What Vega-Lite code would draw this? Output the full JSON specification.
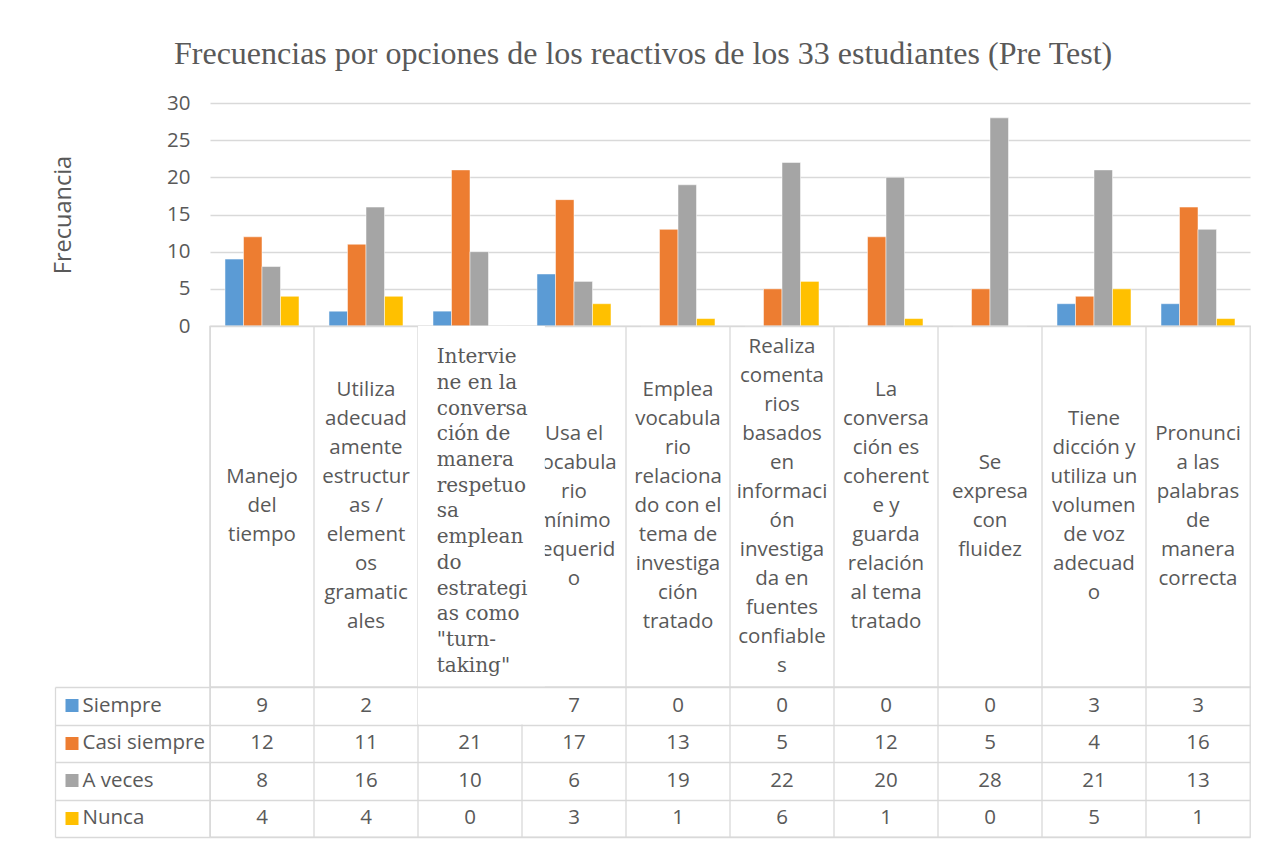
{
  "$schema": "https://vega.github.io/schema/vega-lite/v6.json",
  "background": "white",
  "padding": {"left": 51, "top": 38, "right": 17, "bottom": 7},
  "title": {
    "text": "Frecuencias por opciones de los reactivos de los 33 estudiantes (Pre Test)",
    "font": "Liberation Serif",
    "fontSize": 32,
    "fontWeight": "normal",
    "color": "#595959",
    "anchor": "middle",
    "offset": 22,
    "dx": -8
  },
  "datasets": {
    "freq": [
      {"item": "Manejo del tiempo", "opcion": "Siempre", "n": 9},
      {"item": "Manejo del tiempo", "opcion": "Casi siempre", "n": 12},
      {"item": "Manejo del tiempo", "opcion": "A veces", "n": 8},
      {"item": "Manejo del tiempo", "opcion": "Nunca", "n": 4},
      {"item": "Utiliza adecuadamente estructuras / elementos gramaticales", "opcion": "Siempre", "n": 2},
      {"item": "Utiliza adecuadamente estructuras / elementos gramaticales", "opcion": "Casi siempre", "n": 11},
      {"item": "Utiliza adecuadamente estructuras / elementos gramaticales", "opcion": "A veces", "n": 16},
      {"item": "Utiliza adecuadamente estructuras / elementos gramaticales", "opcion": "Nunca", "n": 4},
      {"item": "Interviene en la conversación de manera respetuosa empleando estrategias como turn-taking", "opcion": "Siempre", "n": 2},
      {"item": "Interviene en la conversación de manera respetuosa empleando estrategias como turn-taking", "opcion": "Casi siempre", "n": 21},
      {"item": "Interviene en la conversación de manera respetuosa empleando estrategias como turn-taking", "opcion": "A veces", "n": 10},
      {"item": "Interviene en la conversación de manera respetuosa empleando estrategias como turn-taking", "opcion": "Nunca", "n": 0},
      {"item": "Usa el vocabulario mínimo requerido", "opcion": "Siempre", "n": 7},
      {"item": "Usa el vocabulario mínimo requerido", "opcion": "Casi siempre", "n": 17},
      {"item": "Usa el vocabulario mínimo requerido", "opcion": "A veces", "n": 6},
      {"item": "Usa el vocabulario mínimo requerido", "opcion": "Nunca", "n": 3},
      {"item": "Emplea vocabulario relacionado con el tema de investigación tratado", "opcion": "Siempre", "n": 0},
      {"item": "Emplea vocabulario relacionado con el tema de investigación tratado", "opcion": "Casi siempre", "n": 13},
      {"item": "Emplea vocabulario relacionado con el tema de investigación tratado", "opcion": "A veces", "n": 19},
      {"item": "Emplea vocabulario relacionado con el tema de investigación tratado", "opcion": "Nunca", "n": 1},
      {"item": "Realiza comentarios basados en información investigada en fuentes confiables", "opcion": "Siempre", "n": 0},
      {"item": "Realiza comentarios basados en información investigada en fuentes confiables", "opcion": "Casi siempre", "n": 5},
      {"item": "Realiza comentarios basados en información investigada en fuentes confiables", "opcion": "A veces", "n": 22},
      {"item": "Realiza comentarios basados en información investigada en fuentes confiables", "opcion": "Nunca", "n": 6},
      {"item": "La conversación es coherente y guarda relación al tema tratado", "opcion": "Siempre", "n": 0},
      {"item": "La conversación es coherente y guarda relación al tema tratado", "opcion": "Casi siempre", "n": 12},
      {"item": "La conversación es coherente y guarda relación al tema tratado", "opcion": "A veces", "n": 20},
      {"item": "La conversación es coherente y guarda relación al tema tratado", "opcion": "Nunca", "n": 1},
      {"item": "Se expresa con fluidez", "opcion": "Siempre", "n": 0},
      {"item": "Se expresa con fluidez", "opcion": "Casi siempre", "n": 5},
      {"item": "Se expresa con fluidez", "opcion": "A veces", "n": 28},
      {"item": "Se expresa con fluidez", "opcion": "Nunca", "n": 0},
      {"item": "Tiene dicción y utiliza un volumen de voz adecuado", "opcion": "Siempre", "n": 3},
      {"item": "Tiene dicción y utiliza un volumen de voz adecuado", "opcion": "Casi siempre", "n": 4},
      {"item": "Tiene dicción y utiliza un volumen de voz adecuado", "opcion": "A veces", "n": 21},
      {"item": "Tiene dicción y utiliza un volumen de voz adecuado", "opcion": "Nunca", "n": 5},
      {"item": "Pronuncia las palabras de manera correcta", "opcion": "Siempre", "n": 3},
      {"item": "Pronuncia las palabras de manera correcta", "opcion": "Casi siempre", "n": 16},
      {"item": "Pronuncia las palabras de manera correcta", "opcion": "A veces", "n": 13},
      {"item": "Pronuncia las palabras de manera correcta", "opcion": "Nunca", "n": 1}
    ],
    "labels": [
      {"item": "Manejo del tiempo", "label": "Manejo\ndel\ntiempo"},
      {"item": "Utiliza adecuadamente estructuras / elementos gramaticales", "label": "Utiliza\nadecuad\namente\nestructur\nas /\nelement\nos\ngramatic\nales"},
      {"item": "Interviene en la conversación de manera respetuosa empleando estrategias como turn-taking", "label": "Intervie\nne en la\nconversa\nción de\nmanera\nrespetuo\nsa\nemplean\ndo\nestrategi\nas como\n\"turn-\ntaking\""},
      {"item": "Usa el vocabulario mínimo requerido", "label": "Usa el\nvocabula\nrio\nmínimo\nrequerid\no"},
      {"item": "Emplea vocabulario relacionado con el tema de investigación tratado", "label": "Emplea\nvocabula\nrio\nrelaciona\ndo con el\ntema de\ninvestiga\nción\ntratado"},
      {"item": "Realiza comentarios basados en información investigada en fuentes confiables", "label": "Realiza\ncomenta\nrios\nbasados\nen\ninformaci\nón\ninvestiga\nda en\nfuentes\nconfiable\ns"},
      {"item": "La conversación es coherente y guarda relación al tema tratado", "label": "La\nconversa\nción es\ncoherent\ne y\nguarda\nrelación\nal tema\ntratado"},
      {"item": "Se expresa con fluidez", "label": "Se\nexpresa\ncon\nfluidez"},
      {"item": "Tiene dicción y utiliza un volumen de voz adecuado", "label": "Tiene\ndicción y\nutiliza un\nvolumen\nde voz\nadecuad\no"},
      {"item": "Pronuncia las palabras de manera correcta", "label": "Pronunci\na las\npalabras\nde\nmanera\ncorrecta"}
    ],
    "mask": [
      {"desde": "Interviene en la conversación de manera respetuosa empleando estrategias como turn-taking", "hasta": "Usa el vocabulario mínimo requerido", "opcion": "Siempre"}
    ]
  },
  "spacing": 0,
  "bounds": "flush",
  "vconcat": [
    {
      "width": 1040,
      "height": 223,
      "view": {"stroke": null},
      "data": {"name": "freq"},
      "mark": {"type": "bar", "stroke": "white", "strokeWidth": 0.5},
      "encoding": {
        "x": {"field": "item", "type": "nominal", "axis": null,
          "scale": {"paddingInner": 0, "paddingOuter": 0, "domain": ["Manejo del tiempo", "Utiliza adecuadamente estructuras / elementos gramaticales", "Interviene en la conversación de manera respetuosa empleando estrategias como turn-taking", "Usa el vocabulario mínimo requerido", "Emplea vocabulario relacionado con el tema de investigación tratado", "Realiza comentarios basados en información investigada en fuentes confiables", "La conversación es coherente y guarda relación al tema tratado", "Se expresa con fluidez", "Tiene dicción y utiliza un volumen de voz adecuado", "Pronuncia las palabras de manera correcta"]}},
        "xOffset": {"field": "opcion", "type": "nominal",
          "scale": {"domain": ["Siempre", "Casi siempre", "A veces", "Nunca"], "paddingInner": 0, "paddingOuter": 0.81}},
        "y": {"field": "n", "type": "quantitative",
          "scale": {"domain": [0, 30], "nice": false},
          "axis": {"values": [0, 5, 10, 15, 20, 25, 30], "title": "Frecuancia", "grid": true, "gridColor": "#d9d9d9", "gridWidth": 1.3, "domain": false, "ticks": false, "labelFontSize": 20.5, "labelPadding": 20, "titleFontSize": 23.5, "titlePadding": 91}},
        "color": {"field": "opcion", "type": "nominal",
          "scale": {"domain": ["Siempre", "Casi siempre", "A veces", "Nunca"], "range": ["#5B9BD5", "#ED7D31", "#A5A5A5", "#FFC000"]},
          "legend": null}
      }
    },
    {
      "width": 1040,
      "height": 361,
      "layer": [
        {
          "data": {"name": "labels"},
          "mark": {"type": "rule", "color": "#d9d9d9", "strokeWidth": 1.3},
          "encoding": {
            "x": {"field": "item", "type": "nominal", "bandPosition": 0, "axis": null,
              "scale": {"paddingInner": 0, "paddingOuter": 0, "domain": ["Manejo del tiempo", "Utiliza adecuadamente estructuras / elementos gramaticales", "Interviene en la conversación de manera respetuosa empleando estrategias como turn-taking", "Usa el vocabulario mínimo requerido", "Emplea vocabulario relacionado con el tema de investigación tratado", "Realiza comentarios basados en información investigada en fuentes confiables", "La conversación es coherente y guarda relación al tema tratado", "Se expresa con fluidez", "Tiene dicción y utiliza un volumen de voz adecuado", "Pronuncia las palabras de manera correcta"]}}
          }
        },
        {
          "data": {"name": "labels"},
          "transform": [
            {"filter": "indexof(datum.item, 'Interviene') !== 0"},
            {"calculate": "(length(split(datum.label, '\\n')) - 1) / 2", "as": "mitad"}
          ],
          "mark": {"type": "text", "lineBreak": "\n", "lineHeight": 29, "fontSize": 20.5, "align": "center", "baseline": "middle", "font": "Open Sans", "color": "#595959"},
          "encoding": {
            "x": {"field": "item", "type": "nominal", "axis": null},
            "y": {"field": "mitad", "type": "quantitative", "axis": null,
              "scale": {"domain": [-6.224, 6.224], "nice": false, "zero": false}},
            "text": {"field": "label"}
          }
        },
        {
          "data": {"name": "mask"},
          "mark": {"type": "rect", "color": "white"},
          "encoding": {
            "x": {"field": "desde", "type": "nominal", "bandPosition": 0},
            "x2": {"field": "hasta", "bandPosition": 0.22}
          }
        },
        {
          "data": {"name": "labels"},
          "transform": [
            {"filter": "indexof(datum.item, 'Interviene') === 0"},
            {"calculate": "(length(split(datum.label, '\\n')) - 1) / 2 * 25.7 / 29", "as": "mitad"}
          ],
          "mark": {"type": "text", "lineBreak": "\n", "lineHeight": 25.7, "fontSize": 20, "align": "left", "baseline": "middle", "font": "DejaVu Serif", "color": "#595959", "dy": 5},
          "encoding": {
            "x": {"field": "item", "type": "nominal", "bandPosition": 0.18},
            "y": {"field": "mitad", "type": "quantitative", "axis": null},
            "text": {"field": "label"}
          }
        }
      ]
    },
    {
      "width": 1040,
      "height": 150,
      "resolve": {"axis": {"y": "independent"}},
      "layer": [
        {
          "data": {"name": "labels"},
          "mark": {"type": "rule", "color": "#d9d9d9", "strokeWidth": 1.3},
          "encoding": {
            "x": {"field": "item", "type": "nominal", "bandPosition": 0, "axis": null,
              "scale": {"paddingInner": 0, "paddingOuter": 0, "domain": ["Manejo del tiempo", "Utiliza adecuadamente estructuras / elementos gramaticales", "Interviene en la conversación de manera respetuosa empleando estrategias como turn-taking", "Usa el vocabulario mínimo requerido", "Emplea vocabulario relacionado con el tema de investigación tratado", "Realiza comentarios basados en información investigada en fuentes confiables", "La conversación es coherente y guarda relación al tema tratado", "Se expresa con fluidez", "Tiene dicción y utiliza un volumen de voz adecuado", "Pronuncia las palabras de manera correcta"]}}
          }
        },
        {
          "data": {"name": "freq"},
          "mark": {"type": "text", "fontSize": 20.5, "font": "Open Sans", "color": "#595959", "align": "center", "baseline": "middle"},
          "encoding": {
            "x": {"field": "item", "type": "nominal", "axis": null},
            "y": {"field": "opcion", "type": "nominal",
              "scale": {"domain": ["Siempre", "Casi siempre", "A veces", "Nunca"], "paddingInner": 0, "paddingOuter": 0},
              "axis": {"orient": "left", "offset": 132, "title": null, "domain": false, "grid": false, "ticks": true, "tickSize": 13, "tickWidth": 13, "tickCap": "butt",
                "tickColor": {"condition": [{"test": "datum.value === 'Siempre'", "value": "#5B9BD5"}, {"test": "datum.value === 'Casi siempre'", "value": "#ED7D31"}, {"test": "datum.value === 'A veces'", "value": "#A5A5A5"}], "value": "#FFC000"},
                "labelAlign": "left", "labelBaseline": "middle", "labelPadding": -17, "labelFontSize": 20.5, "labelLimit": 200}},
            "text": {"field": "n"}
          }
        },
        {
          "data": {"name": "mask"},
          "mark": {"type": "rect", "color": "white"},
          "encoding": {
            "x": {"field": "desde", "type": "nominal", "bandPosition": 0},
            "x2": {"field": "hasta", "bandPosition": 0.22},
            "y": {"field": "opcion", "type": "nominal",
              "axis": {"orient": "left", "offset": 0, "title": null, "domain": false, "labels": false, "ticks": true, "tickBand": "extent", "tickSize": 155, "tickColor": "#d9d9d9", "tickWidth": 1.3, "grid": true, "gridColor": "#d9d9d9", "gridWidth": 1.3}}
          }
        },
        {
          "data": {"name": "freq"},
          "mark": {"type": "text", "text": ""},
          "encoding": {
            "y": {"field": "opcion", "type": "nominal",
              "axis": {"orient": "left", "offset": 155, "title": null, "domain": true, "domainColor": "#d9d9d9", "domainWidth": 1.3, "labels": false, "ticks": false, "grid": false}}
          }
        }
      ]
    }
  ],
  "config": {
    "view": {"stroke": "#d9d9d9", "strokeWidth": 1.3},
    "font": "Open Sans",
    "axis": {"labelFont": "Open Sans", "labelColor": "#595959", "titleFont": "Open Sans", "titleColor": "#595959", "titleFontWeight": "normal"}
  }
}
